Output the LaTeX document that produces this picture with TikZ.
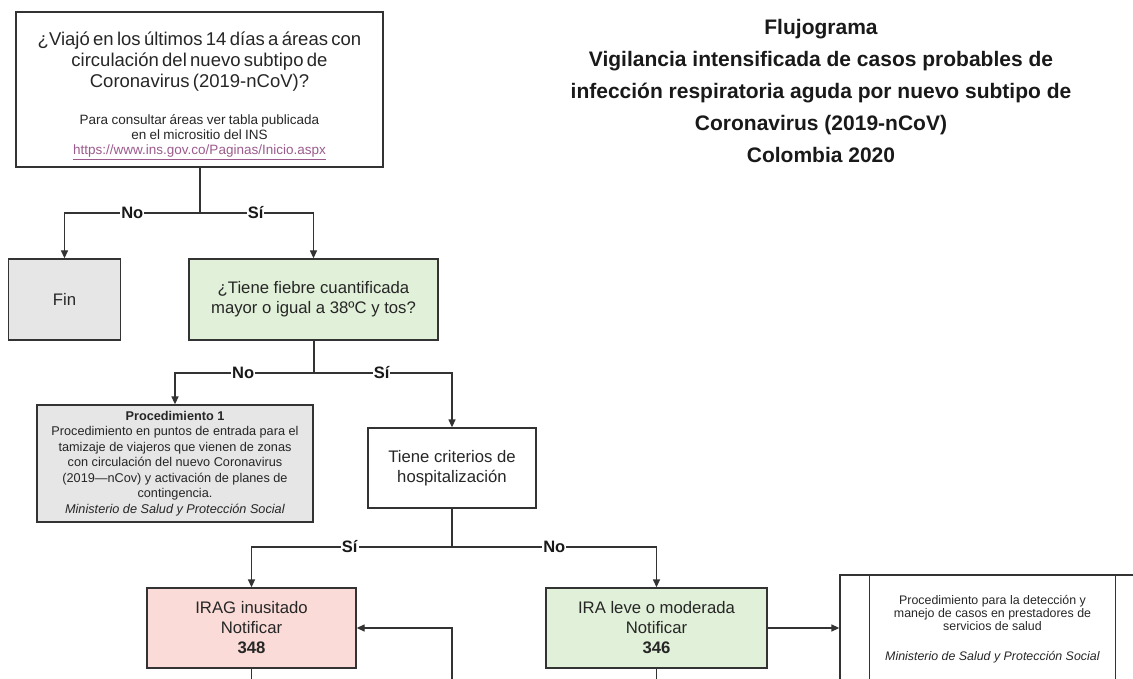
\documentclass[tikz,border=0pt]{standalone}
\usepackage{fontspec}
\setmainfont{Liberation Sans}
\usetikzlibrary{arrows.meta}
\definecolor{linec}{HTML}{333333}
\definecolor{greenf}{HTML}{E1F0D8}
\definecolor{pinkf}{HTML}{FADBD7}
\definecolor{grayf}{HTML}{E6E6E6}
\definecolor{linkc}{HTML}{9B5A8C}
\tikzset{
  box/.style={draw=linec, line width=1.3pt, rectangle, align=center, text=black!85, inner sep=0pt},
  conn/.style={draw=linec, line width=1.3pt},
  arr/.style={conn, -{Triangle[length=8pt,width=7pt]}},
  lbl/.style={fill=white, font=\fontsize{16.5}{18}\selectfont\bfseries, inner sep=1pt, text=black!90},
  mid/.style={font=\fontsize{16.7}{20}\selectfont},
  small/.style={font=\fontsize{12.7}{15.5}\selectfont},
}
\begin{document}
\begin{tikzpicture}[x=1pt,y=-1pt]
\useasboundingbox (0,0) rectangle (1133,679);
\clip (0,0) rectangle (1133,679);

% title
\node[align=center, font=\fontsize{21}{32.2}\selectfont\bfseries, text=black!90] (title) at (821,91)
 {Flujograma\\Vigilancia intensificada de casos probables de\\infección respiratoria aguda por nuevo subtipo de\\Coronavirus (2019-nCoV)\\Colombia 2020};

% boxes
\node[box, minimum width=367pt, minimum height=155pt, text width=366pt] (q1) at (199.5,89.5)
 {{\fontsize{18.5}{21}\selectfont ¿Viajó en los últimos 14 días a áreas con\\ circulación del nuevo subtipo de\\ Coronavirus (2019-nCoV)?\par}\vspace{22.5pt}%
  {\fontsize{13.5}{15}\selectfont Para consultar áreas ver tabla publicada\\ en el micrositio del INS\\ \textcolor{linkc}{\underline{https://www.ins.gov.co/Paginas/Inicio.aspx}}\par}\vspace{-12pt}};

\node[box, fill=grayf, mid, minimum width=112pt, minimum height=81pt] (fin) at (64.5,299.5) {Fin};
\node[box, fill=greenf, mid, minimum width=249pt, minimum height=81pt] (q2) at (313.5,299.5)
 {¿Tiene fiebre cuantificada\\mayor o igual a 38ºC y tos?};

\node[box, fill=grayf, small, minimum width=276pt, minimum height=117pt] (p1) at (175,463.5)
 {\textbf{Procedimiento 1}\\Procedimiento en puntos de entrada para el\\tamizaje de viajeros que vienen de zonas\\con circulación del nuevo Coronavirus\\(2019—nCov) y activación de planes de\\contingencia.\\\textit{Ministerio de Salud y Protección Social}};

\node[box, mid, minimum width=168pt, minimum height=80pt] (q3) at (452,468)
 {Tiene criterios de\\hospitalización};

\node[box, fill=pinkf, mid, minimum width=209pt, minimum height=80pt] (irag) at (251.5,628)
 {IRAG inusitado\\Notificar\\\textbf{348}};
\node[box, fill=greenf, mid, minimum width=221pt, minimum height=80pt] (ira) at (656.5,628)
 {IRA leve o moderada\\Notificar\\\textbf{346}};

\node[box, font=\fontsize{12.4}{13}\selectfont, minimum width=305pt, minimum height=109pt] (p2) at (992.5,629.5)
 {Procedimiento para la detección y\\manejo de casos en prestadores de\\servicios de salud\\[17pt]\textit{Ministerio de Salud y Protección Social}};
\draw[conn] ([xshift=30pt]p2.north west) -- ([xshift=30pt]p2.south west);
\draw[conn] ([xshift=-30pt]p2.north east) -- ([xshift=-30pt]p2.south east);

% connectors
\coordinate (j1) at (200,213);
\draw[conn] (q1.south -| j1) -- (j1);
\draw[arr] (j1) -| (fin.north) node[lbl, pos=0.25] {No};
\draw[arr] (j1) -| (q2.north) node[lbl, pos=0.245] {Sí};

\coordinate (j2) at (314,373);
\draw[conn] (q2.south -| j2) -- (j2);
\draw[arr] (j2) -| (p1.north) node[lbl, pos=0.255] {No};
\draw[arr] (j2) -| (q3.north) node[lbl, pos=0.245] {Sí};

\coordinate (j3) at (452,547);
\draw[conn] (q3.south) -- (j3);
\draw[arr] (j3) -| (irag.north) node[lbl, pos=0.255] {Sí};
\draw[arr] (j3) -| (ira.north) node[lbl, pos=0.25] {No};

\draw[arr] (ira.east) -- (ira.east -| p2.west);

\coordinate (loopin) at (452,690);
\draw[arr] (loopin) |- (irag.east);
\coordinate (out1) at (251.5,690);
\coordinate (out2) at (656.5,690);
\draw[conn] (irag.south) -- (out1);
\draw[conn] (ira.south) -- (out2);
\end{tikzpicture}
\end{document}
